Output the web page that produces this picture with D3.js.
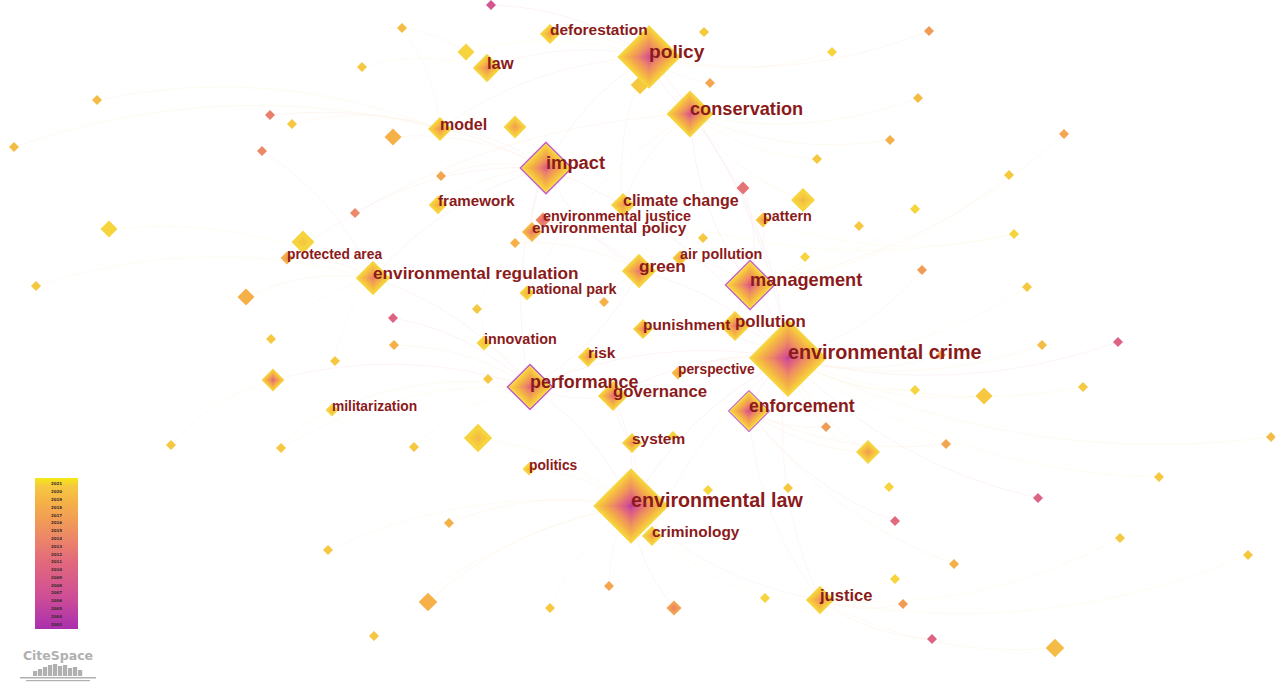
<!DOCTYPE html>
<html>
<head>
<meta charset="utf-8">
<script src="https://cdn.jsdelivr.net/npm/d3@7"></script>
<style>
  html, body { margin: 0; padding: 0; background: #fff; }
  svg { display: block; }
</style>
</head>
<body>
<div id="chart"></div>
<script>
// ---- labelled keywords (CiteSpace layout coordinates, frequency, active years, centrality)
const keywordNames = ["environmental crime", "environmental law", "policy", "conservation", "impact",
  "management", "performance", "enforcement", "green", "environmental regulation", "pollution",
  "governance", "law", "justice", "model", "climate change", "punishment", "environmental policy",
  "risk", "system", "criminology", "deforestation", "framework", "national park", "innovation",
  "environmental justice", "air pollution", "protected area", "perspective", "militarization",
  "politics", "pattern"];
const keywordX = [788, 631, 649, 690, 546, 750, 530, 749, 639, 373, 735, 613, 487, 820, 440, 623,
  643, 532, 588, 632, 652, 550, 438, 527, 484, 543, 680, 287, 678, 332, 529, 763];
const keywordY = [358, 506, 57, 114, 168, 285, 387, 411, 271, 278, 326, 396, 68, 600, 129, 205,
  329, 232, 357, 443, 536, 34, 205, 293, 343, 220, 258, 258, 373, 410, 469, 220];
const keywordFreq = [114, 107, 74, 39, 43, 39, 32, 26, 20, 20, 15, 15, 13, 13, 9, 9,
  6, 6, 6, 6, 6, 6, 5, 3, 3, 3, 3, 2, 2, 2, 2, 3];
const keywordFirst = [2005, 2004, 2007, 2008, 2009, 2008, 2010, 2007, 2012, 2013, 2012, 2011, 2014, 2015, 2015, 2016,
  2013, 2012, 2016, 2015, 2017, 2017, 2018, 2018, 2020, 2011, 2017, 2016, 2017, 2019, 2019, 2016];
const keywordLast = [2021, 2021, 2021, 2021, 2021, 2021, 2021, 2021, 2021, 2021, 2021, 2021, 2021, 2021, 2021, 2021,
  2021, 2019, 2021, 2021, 2021, 2021, 2021, 2021, 2021, 2014, 2020, 2018, 2019, 2021, 2021, 2020];
const keywordCentrality = [0.09, 0.08, 0.09, 0.06, 0.15, 0.14, 0.16, 0.10, 0.05, 0.07, 0.04, 0.05, 0.03, 0.02, 0.02, 0.03,
  0.01, 0.01, 0.01, 0.01, 0.01, 0.01, 0.01, 0, 0, 0, 0, 0, 0, 0, 0, 0];

// ---- unlabelled keywords
const minorX = [491, 402, 466, 362, 704, 832, 929, 640, 710, 97, 270, 292, 393, 515, 918, 890, 1064, 14, 262, 441,
  817, 743, 803, 1009, 915, 859, 355, 109, 303, 1014, 703, 515, 805, 922, 36, 246, 1027, 477, 604, 393,
  271, 394, 335, 1042, 1118, 941, 273, 488, 915, 984, 1083, 478, 171, 281, 414, 826, 868, 946, 1271, 673,
  708, 788, 449, 889, 1159, 1038, 895, 328, 954, 1120, 1248, 609, 428, 550, 674, 765, 895, 903, 374, 932, 1055];
const minorY = [5, 28, 52, 67, 32, 52, 31, 85, 83, 100, 115, 124, 137, 127, 98, 140, 134, 147, 151, 176,
  159, 188, 200, 175, 209, 226, 213, 229, 242, 234, 238, 243, 257, 270, 286, 297, 287, 309, 302, 318,
  339, 345, 361, 345, 342, 355, 380, 379, 390, 396, 387, 438, 445, 448, 447, 427, 452, 444, 437, 436,
  490, 488, 523, 487, 477, 498, 521, 550, 564, 538, 555, 586, 602, 608, 608, 598, 579, 604, 636, 639, 648];
const minorFreq = [1, 1, 4, 1, 1, 1, 1, 5, 1, 1, 1, 1, 4, 8, 1, 1, 1, 1, 1, 1,
  1, 2, 9, 1, 1, 1, 1, 4, 8, 1, 1, 1, 1, 1, 1, 4, 1, 1, 1, 1,
  1, 1, 1, 1, 1, 1, 8, 1, 1, 4, 1, 13, 1, 1, 1, 1, 9, 1, 1, 1,
  1, 1, 1, 1, 1, 1, 1, 1, 1, 1, 1, 1, 5, 1, 3, 1, 1, 1, 1, 1, 5];
const minorFirst = [2008, 2019, 2021, 2020, 2020, 2021, 2016, 2020, 2017, 2019, 2013, 2020, 2018, 2016, 2019, 2018, 2017, 2019, 2014, 2017,
  2020, 2012, 2019, 2020, 2021, 2020, 2014, 2021, 2020, 2021, 2020, 2018, 2021, 2016, 2020, 2018, 2020, 2020, 2018, 2010,
  2020, 2018, 2020, 2019, 2010, 2017, 2010, 2020, 2021, 2020, 2020, 2019, 2020, 2020, 2020, 2016, 2016, 2017, 2019, 2021,
  2021, 2020, 2018, 2021, 2020, 2010, 2011, 2020, 2018, 2020, 2020, 2017, 2018, 2020, 2013, 2021, 2021, 2016, 2020, 2010, 2019];
const minorLast = [2008, 2019, 2021, 2020, 2020, 2021, 2016, 2020, 2017, 2019, 2013, 2020, 2018, 2021, 2019, 2018, 2017, 2019, 2014, 2017,
  2020, 2012, 2021, 2020, 2021, 2020, 2014, 2021, 2021, 2021, 2020, 2018, 2021, 2016, 2020, 2018, 2020, 2020, 2018, 2010,
  2020, 2018, 2020, 2019, 2010, 2017, 2021, 2020, 2021, 2020, 2020, 2021, 2020, 2020, 2020, 2016, 2021, 2017, 2019, 2021,
  2021, 2020, 2018, 2021, 2020, 2010, 2011, 2020, 2018, 2020, 2020, 2017, 2018, 2020, 2017, 2021, 2021, 2016, 2020, 2010, 2019];

// ---- co-occurrence links (keyword name or unlabelled index)
const links = [
  ["environmental crime", "enforcement"], ["environmental crime", "pollution"], ["environmental crime", "management"],
  ["environmental crime", "environmental law"], ["environmental crime", "punishment"], ["environmental crime", "perspective"],
  ["environmental crime", "justice"], ["environmental crime", "criminology"], ["environmental crime", "governance"],
  ["environmental crime", "green"], ["environmental crime", "performance"], ["environmental crime", "policy"],
  ["environmental crime", "conservation"], ["environmental crime", "impact"],
  ["environmental crime", 48], ["environmental crime", 49], ["environmental crime", 43], ["environmental crime", 45],
  ["environmental crime", 56], ["environmental crime", 50], ["environmental crime", 44], ["environmental crime", 55],
  ["environmental crime", 64], ["environmental crime", 58], ["environmental crime", 63], ["environmental crime", 65],
  ["environmental crime", 33], ["environmental crime", 36],
  ["environmental law", "criminology"], ["environmental law", "system"], ["environmental law", "politics"],
  ["environmental law", "governance"], ["environmental law", "performance"], ["environmental law", "justice"],
  ["environmental law", 71], ["environmental law", 74], ["environmental law", 73], ["environmental law", 72],
  ["environmental law", 62], ["environmental law", 51], ["environmental law", 60], ["environmental law", 61],
  ["environmental law", 75], ["environmental law", 67], ["environmental law", 78],
  ["policy", "conservation"], ["policy", "deforestation"], ["policy", "law"], ["policy", "impact"],
  ["policy", "climate change"], ["policy", 7], ["policy", 8], ["policy", 4], ["policy", 5], ["policy", 6],
  ["policy", 0], ["policy", "model"], ["policy", 2],
  ["conservation", "climate change"], ["conservation", "management"], ["conservation", 15], ["conservation", 14],
  ["conservation", 20], ["conservation", "protected area"], ["conservation", "national park"], ["conservation", 22],
  ["impact", "model"], ["impact", "framework"], ["impact", "performance"], ["impact", "environmental regulation"],
  ["impact", "green"], ["impact", "environmental policy"], ["impact", 13], ["impact", 12], ["impact", 19],
  ["impact", 26], ["impact", 10],
  ["management", "pattern"], ["management", "air pollution"], ["management", "pollution"], ["management", 21],
  ["management", 32], ["management", 23], ["management", 24], ["management", 25], ["management", 16],
  ["performance", "environmental regulation"], ["performance", "innovation"], ["performance", "risk"],
  ["performance", "governance"], ["performance", "green"], ["performance", "militarization"], ["performance", 47],
  ["performance", 46], ["performance", 41], ["performance", 39], ["performance", 53], ["performance", 54],
  ["enforcement", 56], ["enforcement", 55], ["enforcement", "justice"], ["enforcement", 66], ["enforcement", 57],
  ["enforcement", 68],
  ["environmental regulation", "protected area"], ["environmental regulation", 28], ["environmental regulation", 35],
  ["environmental regulation", 40], ["environmental regulation", 27], ["environmental regulation", 34],
  ["environmental regulation", 42], ["environmental regulation", 18],
  ["justice", 77], ["justice", 76], ["justice", 79], ["justice", 80], ["justice", 69], ["justice", 70],
  ["model", 9], ["model", 11], ["model", 17], ["model", 1], ["law", 3], ["law", 1],
  [46, 52], ["militarization", 53], ["green", "environmental justice"], ["green", 30], ["green", 38], ["green", 31],
  ["governance", "system"], ["environmental policy", 37], ["innovation", 37], ["climate change", 29], ["pattern", 29]
];

const legendYears = [2021, 2020, 2019, 2018, 2017, 2016, 2015, 2014, 2013, 2012, 2011, 2010,
  2009, 2008, 2007, 2006, 2005, 2004, 2003];

// ---- build node table
const nodes = keywordNames.map((name, i) => ({
  name, x: keywordX[i], y: keywordY[i], freq: keywordFreq[i],
  y0: keywordFirst[i], y1: keywordLast[i], c: keywordCentrality[i]
})).concat(minorX.map((x, i) => ({
  name: "", x, y: minorY[i], freq: minorFreq[i], y0: minorFirst[i], y1: minorLast[i], c: 0
})));
const nodeOf = k => typeof k === "number" ? nodes[keywordNames.length + k] : nodes[keywordNames.indexOf(k)];

const width = 1275, height = 687;

const x = d3.scaleLinear().domain([0, 1275]).range([0, width]);
const y = d3.scaleLinear().domain([0, 687]).range([0, height]);
const half = d3.scaleSqrt().domain([1, 114]).range([5, 39]);
const fontSize = d3.scaleLog().domain([2, 114]).range([13.8, 19.8]).clamp(true);
const yearColor = d3.scaleLinear()
    .domain([2003, 2007, 2011, 2015, 2018, 2021])
    .range(["#a92fae", "#cf4f95", "#e2697c", "#ef925e", "#f5b047", "#f6d43e"]);

const svg = d3.select("#chart").append("svg")
    .attr("width", width)
    .attr("height", height)
    .attr("viewBox", [0, 0, width, height]);

const defs = svg.append("defs");
defs.append("filter").attr("id", "soft")
  .append("feGaussianBlur").attr("stdDeviation", 0.7);

// links (very faint curves, as CiteSpace draws them)
const linkPath = l => {
  const a = nodeOf(l[0]), b = nodeOf(l[1]);
  const x1 = x(a.x), y1 = y(a.y), x2 = x(b.x), y2 = y(b.y);
  const cx = (x1 + x2) / 2 - (y2 - y1) * 0.15, cy = (y1 + y2) / 2 + (x2 - x1) * 0.15;
  return `M${x1},${y1}Q${cx},${cy} ${x2},${y2}`;
};

svg.append("g")
    .attr("fill", "none")
    .attr("stroke-width", 1)
  .selectAll("path")
  .data(links)
  .join("path")
    .attr("d", linkPath)
    .attr("stroke", l => d3.interpolateRgb(yearColor(Math.max(nodeOf(l[0]).y0, nodeOf(l[1]).y0)), "#fff")(0.75))
    .attr("stroke-opacity", 0.3);

// tree-ring diamonds: ring thickness grows with later years
const diamond = (cx, cy, r) => `M${cx},${cy - r}L${cx + r},${cy}L${cx},${cy + r}L${cx - r},${cy}Z`;

const rings = d => {
  const n = d.y1 - d.y0 + 1;
  const w = d3.range(n).map(k => (k + 1) * (k + 1));
  const total = d3.sum(w);
  const R = half(d.freq);
  const out = [];
  let cum = total;
  for (let k = n - 1; k >= 0; k--) {
    out.push({ year: d.y0 + k, r: R * Math.sqrt(cum / total), cx: x(d.x), cy: y(d.y) });
    cum -= w[k];
  }
  return out;
};

const nodeG = svg.append("g").attr("filter", "url(#soft)")
  .selectAll("g")
  .data(nodes.slice().sort((a, b) => a.freq - b.freq))
  .join("g");

nodeG.filter(d => d.c >= 0.1)
  .append("path")
    .attr("d", d => diamond(x(d.x), y(d.y), half(d.freq) + 1))
    .attr("fill", "none")
    .attr("stroke", "#c45ec4")
    .attr("stroke-width", d => d.c * 11);

nodeG.selectAll("path.ring")
  .data(rings)
  .join("path")
    .attr("class", "ring")
    .attr("d", r => diamond(r.cx, r.cy, r.r))
    .attr("fill", r => yearColor(r.year));

// labels
svg.append("g")
    .attr("font-family", "'Liberation Sans', Arial, sans-serif")
    .attr("font-weight", "bold")
    .attr("fill", "#8b1a1a")
  .selectAll("text")
  .data(nodes.filter(d => d.name))
  .join("text")
    .attr("x", d => x(d.x))
    .attr("y", d => y(d.y) + 1)
    .attr("font-size", d => fontSize(d.freq))
    .text(d => d.name);

// year legend
const lg = defs.append("linearGradient").attr("id", "legendGrad")
    .attr("x1", 0).attr("x2", 0).attr("y1", 0).attr("y2", 1);
lg.append("stop").attr("offset", "0%").attr("stop-color", "#f2e912");
legendYears.slice(1).forEach((yr, i) => {
  lg.append("stop")
    .attr("offset", `${(i + 1) / (legendYears.length - 1) * 100}%`)
    .attr("stop-color", yearColor(yr));
});

const legendScale = d3.scaleBand().domain(legendYears).range([480, 628]);
const legend = svg.append("g");
legend.append("rect")
    .attr("x", 35).attr("y", 478)
    .attr("width", 43).attr("height", 151)
    .attr("fill", "url(#legendGrad)");
legend.selectAll("text")
  .data(legendYears)
  .join("text")
    .attr("x", 56.5)
    .attr("y", d => legendScale(d) + legendScale.bandwidth() / 2 + 1.5)
    .attr("text-anchor", "middle")
    .attr("font-family", "'DejaVu Sans', sans-serif")
    .attr("font-size", 4)
    .attr("font-weight", "bold")
    .attr("fill", "#3a2a2a")
    .text(d => d);

// CiteSpace logo
const logo = svg.append("g").attr("fill", "#b0b0b0");
logo.append("text")
    .attr("x", 58).attr("y", 660)
    .attr("text-anchor", "middle")
    .attr("font-family", "'DejaVu Sans', sans-serif")
    .attr("font-size", 12.5)
    .attr("font-weight", "bold")
    .text("CiteSpace");
[5, 7, 9, 11, 12, 10, 11, 8, 9, 6].forEach((h, i) => {
  logo.append("rect").attr("x", 33 + i * 5).attr("y", 676 - h).attr("width", 4.2).attr("height", h);
});
logo.append("rect").attr("x", 20).attr("y", 677).attr("width", 76).attr("height", 1.5);
logo.append("rect").attr("x", 26).attr("y", 680).attr("width", 64).attr("height", 1.2);
</script>
</body>
</html>
